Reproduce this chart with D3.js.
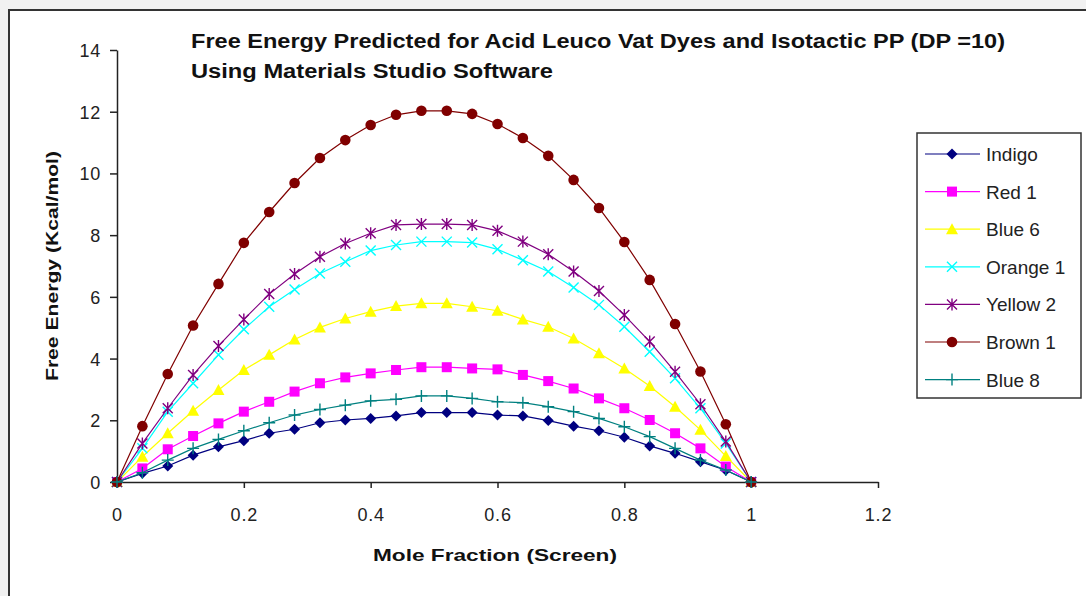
<!DOCTYPE html>
<html>
<head>
<meta charset="utf-8">
<script src="https://cdn.jsdelivr.net/npm/d3@7"></script>
<style>
  body { margin: 0; background: #f1f1f1; }
  svg { display: block; font-family: Arial, "Liberation Sans", sans-serif; }
</style>
</head>
<body>
<div id="container"></div>
<script>
let w = 1086;
let h = 596;

// mole fraction steps 0, 0.04 ... 1.0
let moleFraction = [0, 0.04, 0.08, 0.12, 0.16, 0.2, 0.24, 0.28, 0.32, 0.36, 0.4, 0.44, 0.48,
  0.52, 0.56, 0.6, 0.64, 0.68, 0.72, 0.76, 0.8, 0.84, 0.88, 0.92, 0.96, 1.0];

let indigo  = [0, 0.28, 0.52, 0.87, 1.14, 1.34, 1.58, 1.71, 1.92, 2.01, 2.06, 2.14, 2.25,
  2.25, 2.25, 2.17, 2.14, 1.99, 1.81, 1.66, 1.45, 1.17, 0.93, 0.66, 0.38, 0];
let red1    = [0, 0.44, 1.06, 1.49, 1.9, 2.28, 2.6, 2.93, 3.2, 3.39, 3.52, 3.63, 3.72,
  3.72, 3.68, 3.65, 3.47, 3.27, 3.03, 2.71, 2.39, 2.01, 1.58, 1.09, 0.5, 0];
let blue6   = [0, 0.82, 1.58, 2.31, 2.98, 3.63, 4.12, 4.62, 5.01, 5.3, 5.52, 5.7, 5.79,
  5.79, 5.68, 5.55, 5.27, 5.03, 4.65, 4.17, 3.68, 3.11, 2.44, 1.69, 0.84, 0];
let orange1 = [0, 1.09, 2.28, 3.2, 4.12, 4.95, 5.68, 6.24, 6.76, 7.14, 7.5, 7.68, 7.79,
  7.79, 7.76, 7.54, 7.19, 6.82, 6.3, 5.74, 5.03, 4.22, 3.36, 2.39, 1.25, 0];
let yellow2 = [0, 1.25, 2.39, 3.47, 4.41, 5.27, 6.09, 6.74, 7.3, 7.73, 8.06, 8.33, 8.36,
  8.36, 8.33, 8.14, 7.79, 7.38, 6.82, 6.19, 5.41, 4.55, 3.57, 2.52, 1.31, 0];
let brown1  = [0, 1.81, 3.5, 5.07, 6.42, 7.75, 8.75, 9.69, 10.5, 11.08, 11.57, 11.9, 12.03,
  12.03, 11.93, 11.6, 11.15, 10.57, 9.79, 8.88, 7.78, 6.55, 5.12, 3.58, 1.87, 0];
let blue8   = [0, 0.3, 0.71, 1.09, 1.38, 1.66, 1.92, 2.17, 2.35, 2.49, 2.63, 2.68, 2.79,
  2.79, 2.71, 2.6, 2.57, 2.44, 2.28, 2.06, 1.79, 1.47, 1.09, 0.71, 0.39, 0];

let seriesNames = ["Indigo", "Red 1", "Blue 6", "Orange 1", "Yellow 2", "Brown 1", "Blue 8"];
let seriesValues = [indigo, red1, blue6, orange1, yellow2, brown1, blue8];
let seriesColors = ["#000080", "#ff00ff", "#ffff00", "#00ffff", "#800080", "#800000", "#008080"];
let seriesMarkers = ["diamond", "square", "triangle", "x", "star", "circle", "plus"];

let xTicks = [0, 0.2, 0.4, 0.6, 0.8, 1, 1.2];
let yTicks = [0, 2, 4, 6, 8, 10, 12, 14];

let viz = d3.select("#container")
  .append("svg")
    .attr("width", w)
    .attr("height", h);

// grey page + white chart frame
viz.append("rect").attr("x", 0).attr("y", 0).attr("width", w).attr("height", h).attr("fill", "#f1f1f1");
viz.append("rect")
  .attr("x", 9).attr("y", 10).attr("width", 1090).attr("height", 600)
  .attr("fill", "white").attr("stroke", "#333").attr("stroke-width", 2);

let xScale = d3.scaleLinear().domain([0, 1.2]).range([117, 878]);
let yScale = d3.scaleLinear().domain([0, 14]).range([482, 50]);

// axes
let xAxis = d3.axisBottom(xScale).tickValues(xTicks).tickSize(6).tickSizeOuter(0)
  .tickFormat(d3.format("~g"));
let yAxis = d3.axisLeft(yScale).tickValues(yTicks).tickSize(7).tickSizeOuter(0);

let gx = viz.append("g").attr("transform", "translate(0,482)").call(xAxis);
let gy = viz.append("g").attr("transform", "translate(117,0)").call(yAxis);

[gx, gy].forEach(function(g){
  g.attr("font-size", null).attr("font-family", null);
  g.select(".domain").attr("stroke", "#222").attr("stroke-width", 1.5);
  g.selectAll(".tick line").attr("stroke", "#222").attr("stroke-width", 1.5);
  g.selectAll("text").attr("fill", "#222")
    .style("font-size", "18px").style("letter-spacing", "0.8px");
});
gx.selectAll("text").attr("dy", "0").attr("y", 39);
gy.selectAll("text").attr("x", -16).attr("dy", "0.36em");

// axis titles
viz.append("text")
  .attr("x", 495).attr("y", 561)
  .attr("text-anchor", "middle")
  .attr("textLength", 244).attr("lengthAdjust", "spacingAndGlyphs")
  .style("font-size", "17px").style("font-weight", "bold").attr("fill", "#111")
  .text("Mole Fraction (Screen)");

viz.append("text")
  .attr("transform", "translate(58,266) rotate(-90)")
  .attr("text-anchor", "middle")
  .attr("textLength", 230).attr("lengthAdjust", "spacingAndGlyphs")
  .style("font-size", "17px").style("font-weight", "bold").attr("fill", "#111")
  .text("Free Energy (Kcal/mol)");

// title
viz.append("text")
  .attr("x", 191).attr("y", 48)
  .attr("textLength", 814).attr("lengthAdjust", "spacingAndGlyphs")
  .style("font-size", "20px").style("font-weight", "bold").attr("fill", "#111")
  .text("Free Energy Predicted for Acid Leuco Vat Dyes and Isotactic PP (DP =10)");
viz.append("text")
  .attr("x", 191).attr("y", 78)
  .attr("textLength", 362).attr("lengthAdjust", "spacingAndGlyphs")
  .style("font-size", "20px").style("font-weight", "bold").attr("fill", "#111")
  .text("Using Materials Studio Software");

function drawMarker(g, type, color){
  if (type == "diamond"){
    g.append("path").attr("d", "M0,-5.5L5.5,0L0,5.5L-5.5,0Z").attr("fill", color);
  } else if (type == "square"){
    g.append("rect").attr("x", -5).attr("y", -5).attr("width", 10).attr("height", 10).attr("fill", color);
  } else if (type == "triangle"){
    g.append("path").attr("d", "M0,-6L6,5L-6,5Z").attr("fill", color);
  } else if (type == "x"){
    g.append("path").attr("d", "M-5,-5L5,5M-5,5L5,-5").attr("stroke", color).attr("stroke-width", 1.4);
  } else if (type == "star"){
    g.append("path").attr("d", "M-5,-5L5,5M-5,5L5,-5M0,-6L0,6").attr("stroke", color).attr("stroke-width", 1.4);
  } else if (type == "circle"){
    g.append("circle").attr("r", 5.3).attr("fill", color);
  } else if (type == "plus"){
    g.append("path").attr("d", "M-6,0L6,0M0,-6L0,6").attr("stroke", color).attr("stroke-width", 1.4);
  }
}

let line = d3.line()
  .x(function(d){ return xScale(d[0]); })
  .y(function(d){ return yScale(d[1]); });

seriesValues.forEach(function(vals, s){
  let pts = moleFraction.map(function(x, i){ return [x, vals[i]]; });
  let sg = viz.append("g").attr("class", "series");
  sg.append("path")
    .attr("d", line(pts))
    .attr("fill", "none")
    .attr("stroke", seriesColors[s])
    .attr("stroke-width", 1.2);
  sg.selectAll(".pt").data(pts).enter()
    .append("g")
      .attr("class", "pt")
      .attr("transform", function(d){ return "translate(" + xScale(d[0]) + "," + yScale(d[1]) + ")"; })
      .each(function(){ drawMarker(d3.select(this), seriesMarkers[s], seriesColors[s]); });
});

// legend
viz.append("rect")
  .attr("x", 917).attr("y", 133).attr("width", 164).attr("height", 265)
  .attr("fill", "white").attr("stroke", "#333").attr("stroke-width", 1.5);

let legend = viz.selectAll(".legendItem").data(seriesNames).enter()
  .append("g")
    .attr("class", "legendItem")
    .attr("transform", function(d, i){ return "translate(925," + (154 + i * 37.6) + ")"; });

legend.append("line")
  .attr("x1", 0).attr("x2", 55).attr("y1", 0).attr("y2", 0)
  .attr("stroke", function(d, i){ return seriesColors[i]; })
  .attr("stroke-width", 1.2);
legend.append("g")
  .attr("transform", "translate(27,0)")
  .each(function(d, i){ drawMarker(d3.select(this), seriesMarkers[i], seriesColors[i]); });
legend.append("text")
  .attr("x", 61).attr("y", 7)
  .style("font-size", "19px").attr("fill", "#222")
  .text(function(d){ return d; });
</script>
</body>
</html>
